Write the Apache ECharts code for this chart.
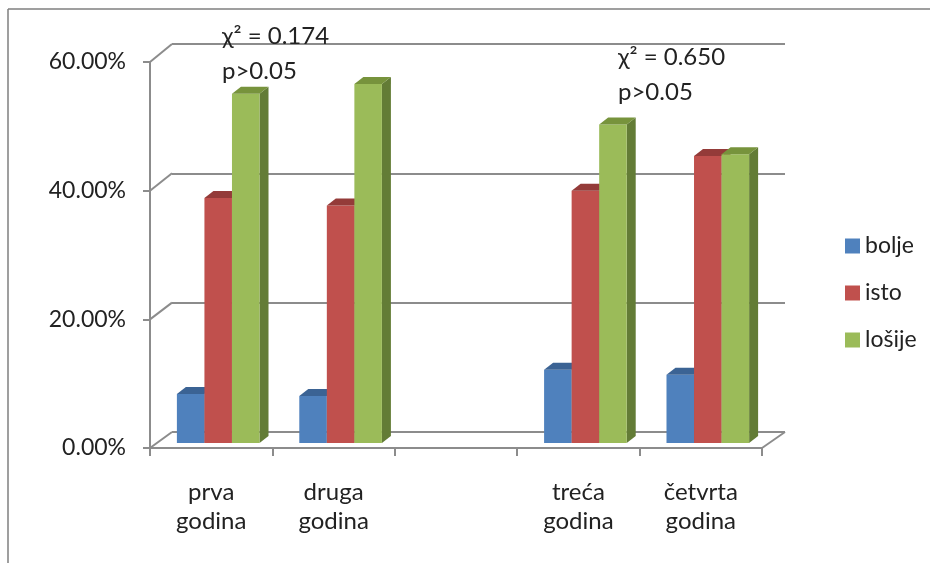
<!DOCTYPE html>
<html><head><meta charset="utf-8">
<script src="https://cdn.jsdelivr.net/npm/echarts@6/dist/echarts.min.js"></script>
<style>html,body{margin:0;padding:0;background:#fff}#c{width:930px;height:563px}</style>
</head><body><div id="c"></div>
<script>
const categories = ['prva\ngodina', 'druga\ngodina', '', 'treća\ngodina', 'četvrta\ngodina'];
const seriesNames = ['bolje', 'isto', 'lošije'];
const bolje  = [0.076, 0.073, null, 0.114, 0.106];
const isto   = [0.381, 0.369, null, 0.392, 0.446];
const losije = [0.543, 0.558, null, 0.495, 0.449];
const yTicks = [0, 0.2, 0.4, 0.6];
const annotations = [
  {text: 'χ² = 0.174\np>0.05', left: 222, top: 19},
  {text: 'χ² = 0.650\np>0.05', left: 618, top: 40}
];

const FONT = 'Lato, "DejaVu Sans", sans-serif';
const FW = 400;
const GRAY = '#8c8c8c';
const TXT = '#222';
const faceColors = [
  {front: '#4F81BD', top: '#3B6394', side: '#385D8A'},
  {front: '#C0504D', top: '#943B39', side: '#8C3836'},
  {front: '#9BBB59', top: '#77933C', side: '#637C36'}
];
const seriesData = [bolje, isto, losije];

const G_FRONT = {left: 150, right: 168, top: 62, bottom: 115};
const G_BACK  = {left: 172, right: 145, top: 44, bottom: 131};
const G_BARS  = {left: 157, right: 161, top: 57, bottom: 120};
const DX = 9, DY = 7;

function makeRender(s) {
  return function (params, api) {
    const i = api.value(0), v = api.value(1);
    const base = api.coord([i, 0]);
    const top = api.coord([i, v]);
    const band = api.size([1, 0])[0];
    const w = band * 0.225;
    const x0 = base[0] - 1.5 * w + s * w, x1 = x0 + w;
    const yb = base[1], yt = top[1];
    const c = faceColors[s];
    return {type: 'group', children: [
      {type: 'polygon', shape: {points: [[x1, yt], [x1 + DX, yt - DY], [x1 + DX, yb - DY], [x1, yb]]}, style: {fill: c.side}},
      {type: 'rect', shape: {x: x0, y: yt, width: w, height: yb - yt}, style: {fill: c.front}},
      {type: 'polygon', shape: {points: [[x0, yt], [x1, yt], [x1 + DX, yt - DY], [x0 + DX, yt - DY]]}, style: {fill: c.top}}
    ]};
  };
}

const chart = echarts.init(document.getElementById('c'));
const option = {
  animation: false,
  backgroundColor: '#fff',
  textStyle: {fontFamily: FONT, fontWeight: FW},
  grid: [
    Object.assign({}, G_FRONT),
    Object.assign({}, G_BACK),
    Object.assign({}, G_BARS)
  ],
  xAxis: [
    {gridIndex: 0, type: 'category', data: categories, boundaryGap: true,
     axisLine: {lineStyle: {color: GRAY, width: 2}},
     axisTick: {show: true, length: 8, alignWithLabel: false, lineStyle: {color: GRAY, width: 2}},
     axisLabel: {interval: 0, margin: 30, color: TXT, fontSize: 24, lineHeight: 29, fontFamily: FONT, fontWeight: FW}},
    {gridIndex: 1, type: 'category', data: categories, show: false},
    {gridIndex: 2, type: 'category', data: categories, show: false}
  ],
  yAxis: [
    {gridIndex: 0, type: 'value', min: 0, max: 0.6, interval: 0.2,
     axisLine: {show: true, lineStyle: {color: GRAY, width: 2}},
     axisTick: {show: true, length: 7, lineStyle: {color: GRAY, width: 2}},
     splitLine: {show: false},
     axisLabel: {margin: 24, color: TXT, fontSize: 23, fontFamily: FONT, fontWeight: FW,
       formatter: v => (v * 100).toFixed(2) + '%'}},
    {gridIndex: 1, type: 'value', min: 0, max: 0.6, interval: 0.2,
     axisLine: {show: false}, axisTick: {show: false}, axisLabel: {show: false},
     splitLine: {show: true, lineStyle: {color: GRAY, width: 2}}},
    {gridIndex: 2, type: 'value', min: 0, max: 0.6, show: false, splitLine: {show: false}}
  ],
  legend: {
    orient: 'vertical', left: 840, top: 229,
    icon: 'rect', itemWidth: 15, itemHeight: 15, itemGap: 23,
    textStyle: {fontSize: 23, color: TXT, fontFamily: FONT, fontWeight: FW, lineHeight: 24},
    data: seriesNames
  },
  series: seriesNames.map((name, s) => ({
    name: name, type: 'custom', xAxisIndex: 2, yAxisIndex: 2,
    itemStyle: {color: faceColors[s].front},
    renderItem: makeRender(s),
    encode: {x: 0, y: 1},
    data: seriesData[s].map((v, i) => v == null ? null : [i, v]).filter(d => d)
  }))
};
chart.setOption(option);

const gfx = [];
const fxL = G_FRONT.left, fxR = 930 - G_FRONT.right;
const bxL = G_BACK.left, bxR = 930 - G_BACK.right;
yTicks.forEach(t => {
  const yf = chart.convertToPixel({yAxisIndex: 0}, t);
  const yb = chart.convertToPixel({yAxisIndex: 1}, t);
  gfx.push({type: 'line', z: 0, shape: {x1: fxL, y1: yf, x2: bxL, y2: yb}, style: {stroke: GRAY, lineWidth: 2}});
});
{
  const yf = chart.convertToPixel({yAxisIndex: 0}, 0);
  const yb = chart.convertToPixel({yAxisIndex: 1}, 0);
  gfx.push({type: 'line', z: 0, shape: {x1: fxR, y1: yf, x2: bxR, y2: yb}, style: {stroke: GRAY, lineWidth: 2}});
}
gfx.push({type: 'line', shape: {x1: 8, y1: 9, x2: 930, y2: 9}, style: {stroke: '#7f7f7f', lineWidth: 1.5}});
gfx.push({type: 'line', shape: {x1: 8, y1: 9, x2: 8, y2: 563}, style: {stroke: '#7f7f7f', lineWidth: 1.5}});
annotations.forEach(a => {
  gfx.push({type: 'text', left: a.left, top: a.top, z: 100,
    style: {text: a.text, font: FW + ' 24px ' + FONT, fill: TXT, lineHeight: 35}});
});
chart.setOption({graphic: gfx});
</script>
</body></html>
